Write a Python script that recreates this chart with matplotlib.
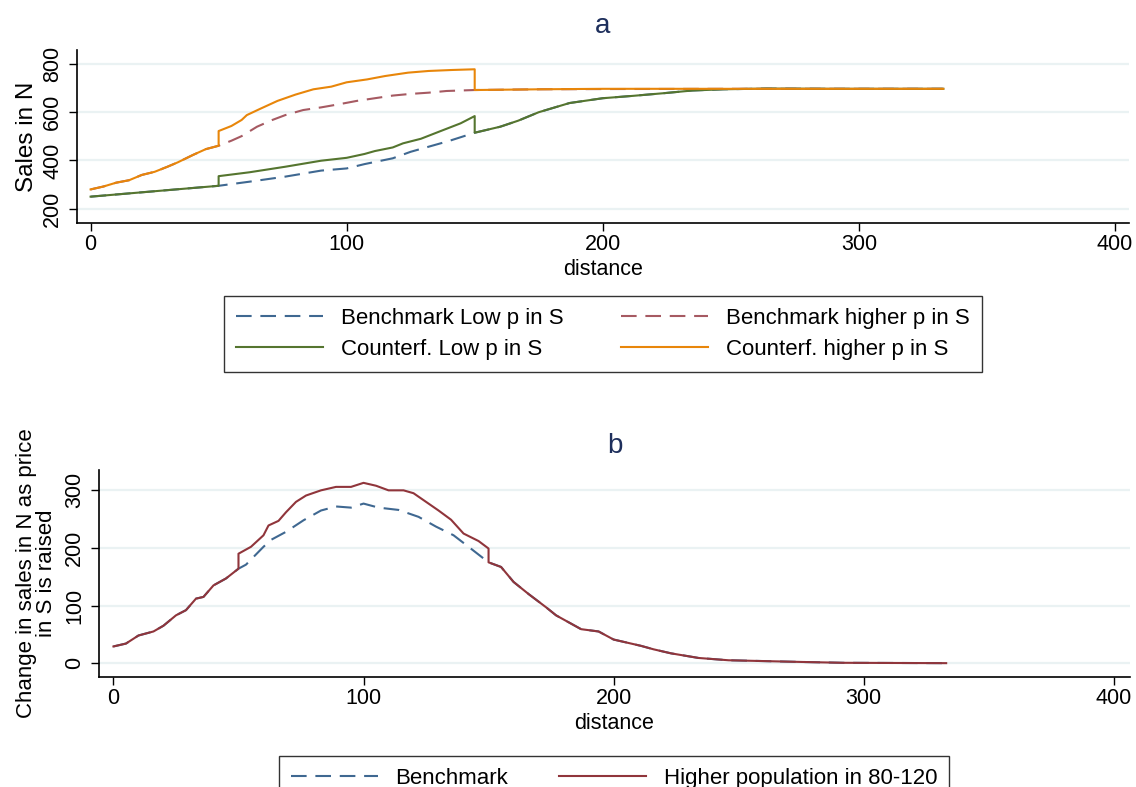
import numpy as np
import matplotlib
matplotlib.use("Agg")
import matplotlib.pyplot as plt

plt.rcParams['font.family'] = ['Liberation Sans', 'DejaVu Sans']

# panel a: sales in N against distance
low_bench_x = [0, 10, 20, 30, 40, 50, 62, 76, 90, 100, 107, 118, 125, 132, 140, 150, 160, 167, 175, 187,
               200, 212, 224, 235, 247, 264, 290, 333]
low_bench_y = [250, 259, 268, 277, 286, 295, 312, 333, 358, 367, 385, 409, 436, 457, 481, 515, 540, 565, 600, 638,
               658, 668, 679, 690, 695, 698, 697, 697]

high_bench_x = [0, 5, 10, 15, 20, 25, 30, 34, 40, 45, 50, 55, 59, 65, 71, 76, 83, 90, 97, 104,
                111, 118, 125, 132, 139, 150, 175, 200, 250, 333]
high_bench_y = [280, 292, 308, 318, 340, 353, 374, 392, 423, 447, 461, 482, 501, 540, 568, 588, 609, 620, 633, 647,
                658, 669, 676, 681, 688, 692, 695, 696, 697, 697]

low_cf_x = [0, 10, 20, 30, 40, 50, 50, 62, 76, 90, 100, 107, 111, 118, 122, 129, 136, 144.5, 150, 150,
            160, 167, 175, 187, 200, 212, 224, 235, 247, 264, 290, 333]
low_cf_y = [250, 259, 268, 277, 286, 295, 335, 351, 374, 399, 411, 427, 439, 454, 471, 490, 519, 554, 584, 515,
            540, 565, 600, 638, 658, 668, 679, 690, 695, 698, 697, 697]

high_cf_x = [0, 5, 10, 15, 20, 25, 30, 34, 40, 45, 50, 50, 55, 59, 61, 66, 73, 80, 87, 94,
             100, 108, 115, 124, 132, 141, 150, 150, 175, 200, 250, 333]
high_cf_y = [280, 292, 308, 318, 340, 353, 374, 392, 423, 447, 461, 522, 543, 568, 588, 613, 647, 673, 695, 706,
             724, 736, 750, 764, 771, 775, 778, 692, 695, 697, 697, 697]

# panel b: change in sales in N
bench_b_x = [0, 3, 5, 10, 16, 20, 25, 29, 33, 36, 40, 45, 50, 53, 60, 63, 69, 76, 83, 89, 95, 100, 106, 114,
             122, 129, 136, 142, 150, 155, 160, 166, 173, 177, 187, 194, 200, 211, 216, 223, 234, 246, 261,
             276, 292, 333]
bench_b_y = [29, 32, 34, 48, 55, 65, 83, 92, 112, 115, 135, 147, 164, 171, 202, 214, 228, 248, 265, 272, 270, 277,
             270, 266, 254, 237, 222, 202, 175, 167, 141, 120, 97, 83, 59, 55, 41, 30, 24, 17, 9, 5, 3.5,
             2, 0.6, 0]

highpop_x = [0, 3, 5, 10, 16, 20, 25, 29, 33, 36, 40, 45, 50, 50, 55, 60, 62, 66, 69, 73, 77, 83, 89, 95, 100,
             105, 110, 116, 120, 125, 130, 135, 140, 146, 150, 150, 155, 160, 166, 173, 177, 187, 194, 200,
             211, 216, 223, 234, 246, 261, 276, 292, 333]
highpop_y = [29, 32, 34, 48, 55, 65, 83, 92, 112, 115, 135, 147, 164, 190, 202, 222, 239, 247, 262, 280, 291,
             300, 306, 306, 313, 308, 300, 300, 295, 280, 265, 249, 225, 212, 199, 175, 167, 141, 120, 97, 83,
             59, 55, 41, 30, 24, 17, 9, 5, 3.5, 2, 0.6, 0]

navy = '#3f6891'
maroon = '#a65a62'
green = '#55752f'
orange = '#e8860a'
red = '#90353b'
grid_c = '#eaf2f3'
title_c = '#1e2f5c'
dash = (0, (7.5, 4.2))
lw = 1.5


def style_axes(ax):
    for s in ['top', 'right']:
        ax.spines[s].set_visible(False)
    for s in ['left', 'bottom']:
        ax.spines[s].set_linewidth(1.2)
    ax.yaxis.grid(True, color=grid_c, linewidth=1.6)
    ax.set_axisbelow(True)
    ax.tick_params(axis='both', direction='out', length=6, width=1, labelsize=15.5)
    ax.tick_params(axis='x', pad=2)
    ax.tick_params(axis='y', pad=4)
    for t in ax.get_yticklabels():
        t.set_rotation(90)
        t.set_va('center')
    ax.set_xticks([0, 100, 200, 300, 400])
    ax.set_xlabel('distance', fontsize=15.5, labelpad=3)


fig = plt.figure(figsize=(11.36, 7.87), dpi=100)

ax1 = fig.add_axes([0.0678, 0.7167, 0.926, 0.2198])
ax1.plot(low_bench_x, low_bench_y, color=navy, lw=lw, linestyle=dash, label='Benchmark Low p in S')
ax1.plot(high_bench_x, high_bench_y, color=maroon, lw=lw, linestyle=dash, label='Benchmark higher p in S')
ax1.plot(low_cf_x, low_cf_y, color=green, lw=lw, label='Counterf. Low p in S')
ax1.plot(high_cf_x, high_cf_y, color=orange, lw=lw, label='Counterf. higher p in S')
ax1.set_xlim(-5.3, 405.5)
ax1.set_ylim(141, 858)
ax1.set_yticks([200, 400, 600, 800])
style_axes(ax1)
ax1.set_ylabel('Sales in N', fontsize=17.5, labelpad=3)
ax1.set_title('a', fontsize=20, color=title_c, pad=12)

h, l = ax1.get_legend_handles_labels()
order = [0, 2, 1, 3]
leg1 = fig.legend([h[i] for i in order], [l[i] for i in order], ncol=2, loc='upper center',
                  bbox_to_anchor=(0.5308, 0.6239), fontsize=16, frameon=True, fancybox=False,
                  edgecolor='black', handlelength=3.9, handletextpad=0.8, columnspacing=2.6,
                  labelspacing=0.45, borderpad=0.55, borderaxespad=0)
leg1.get_frame().set_linewidth(1.0)

ax2 = fig.add_axes([0.0871, 0.1398, 0.9076, 0.2635])
ax2.plot(bench_b_x, bench_b_y, color=navy, lw=lw, linestyle=dash, label='Benchmark')
ax2.plot(highpop_x, highpop_y, color=red, lw=lw, label='Higher population in 80-120')
ax2.set_xlim(-5.8, 406.5)
ax2.set_ylim(-24, 336)
ax2.set_yticks([0, 100, 200, 300])
style_axes(ax2)
ax2.set_ylabel('Change in sales in N as price\nin S is raised', fontsize=16, labelpad=5,
               multialignment='center', linespacing=0.95)
ax2.set_title('b', fontsize=20, color=title_c, pad=12)

leg2 = fig.legend(ncol=2, loc='upper center', handles=ax2.get_lines(),
                  bbox_to_anchor=(0.5405, 0.0395), fontsize=16, frameon=True, fancybox=False,
                  edgecolor='black', handlelength=3.9, handletextpad=0.8, columnspacing=2.3,
                  borderpad=0.55, borderaxespad=0)
leg2.get_frame().set_linewidth(1.0)

fig.savefig('out.png', dpi=100, facecolor='white')
